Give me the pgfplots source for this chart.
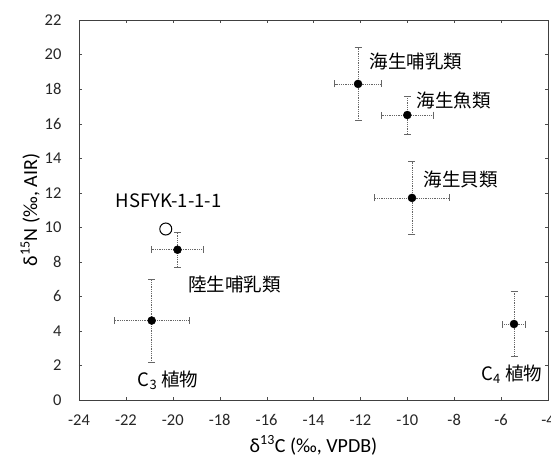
\documentclass[border=0pt]{standalone}
\usepackage{fontspec}
\setmainfont{Carlito}
\newfontfamily\jp{Noto Sans CJK JP}
\usepackage{pgfplots}
\pgfplotsset{compat=1.18}

\begin{document}
\begin{tikzpicture}
\begin{axis}[
    scale only axis,
    width=469pt, height=380pt,
    xmin=-24, xmax=-4,
    ymin=0, ymax=22,
    xtick={-24,-22,...,-4},
    ytick={0,2,...,22},
    tick align=inside,
    major tick length=3pt,
    tick style={black!70},
    axis line style={black!75, line width=0.8pt},
    /pgf/number format/assume math mode=true,
    ticklabel style={font=\fontsize{16.5}{18}\selectfont, text=black!85},
    yticklabel style={xshift=-14pt},
    xticklabel style={yshift=-11pt},
    xlabel={δ\textsuperscript{13}C (‰, VPDB)},
    ylabel={δ\textsuperscript{15}N (‰, AIR)},
    label style={font=\fontsize{20}{22}\selectfont},
    xlabel style={yshift=-3pt},
    ylabel style={yshift=-2pt},
    clip=false,
]
% sources with error bars: x y ex ey
\addplot[
    only marks, mark=*, mark size=4pt, black,
    error bars/.cd,
        x dir=both, x explicit,
        y dir=both, y explicit,
        error bar style={black!60, line width=0.8pt, densely dotted},
        error mark options={black!60, line width=0.8pt, solid, mark size=3.5pt, rotate=90},
] table[x=x, y=y, x error=ex, y error=ey] {
x      y     ex   ey
-12.1  18.3  1.0  2.1
-10.0  16.5  1.1  1.1
-9.8   11.7  1.6  2.1
-19.8  8.7   1.1  1.0
-20.9  4.6   1.6  2.4
-5.45  4.4   0.5  1.9
};
% HSFYK-1-1-1
\addplot[only marks, mark=o, mark size=6pt, black, line width=1pt]
    coordinates {(-20.3,9.9)};

\path[every node/.style={anchor=west, inner sep=0pt, font=\fontsize{18.5}{20}\selectfont\jp}]
    (axis cs:-11.6,19.6) node {海生哺乳類}
    (axis cs:-9.6,17.35) node {海生魚類}
    (axis cs:-9.3,12.75) node {海生貝類}
    (axis cs:-19.35,6.7) node {陸生哺乳類}
    (axis cs:-21.5,1.15) node {C\textsubscript{3} 植物}
    (axis cs:-6.85,1.5) node {C\textsubscript{4} 植物}
    (axis cs:-22.45,11.55) node {HSFYK-1-1-1};
\end{axis}
\pgfresetboundingbox
\path (current axis.south west) ++(-79pt,-59pt) rectangle ++(551pt,459pt);
\end{tikzpicture}
\end{document}
